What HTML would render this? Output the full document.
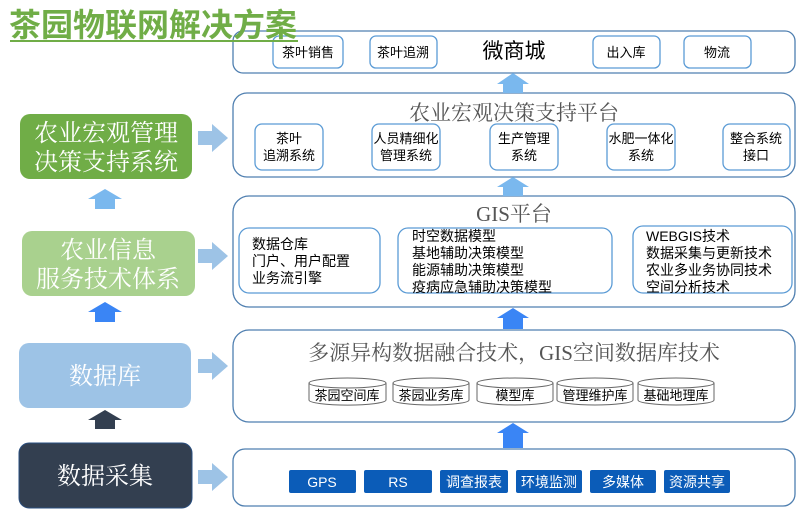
<!DOCTYPE html><html><head><meta charset="utf-8"><style>
body{margin:0;background:#fff}
svg text{font-family:"Liberation Sans","Noto Sans CJK SC",sans-serif}
.s{font-family:"Liberation Serif","Noto Serif CJK SC",serif}
</style></head><body>
<svg width="798" height="511" viewBox="0 0 798 511">
<defs>
<g id="ra"><path d="M0,-7 H14 V-14 L30,0 L14,14 V7 H0Z" fill="#9dc3e6"/></g>
</defs>
<g fill="#fff" stroke="#4f7fb0" stroke-width="1.3">
<rect x="233" y="31" width="562" height="42" rx="10"/>
<rect x="233" y="93" width="562" height="84" rx="14"/>
<rect x="233" y="196" width="562" height="111" rx="16"/>
<rect x="233" y="330" width="562" height="92" rx="16"/>
<rect x="233" y="449" width="562" height="57" rx="12"/>
</g>
<g fill="#fff" stroke="#5b9bd5" stroke-width="1.3">
<rect x="273" y="36" width="70" height="32" rx="6"/>
<rect x="370" y="36" width="67" height="32" rx="6"/>
<rect x="593" y="36" width="67" height="32" rx="6"/>
<rect x="684" y="36" width="67" height="32" rx="6"/>
<rect x="255" y="124" width="68" height="46" rx="7"/>
<rect x="372" y="124" width="68" height="46" rx="7"/>
<rect x="490" y="124" width="68" height="46" rx="7"/>
<rect x="607" y="124" width="68" height="46" rx="7"/>
<rect x="723" y="124" width="67" height="46" rx="7"/>
<rect x="239" y="228" width="141" height="65" rx="10"/>
<rect x="398" y="228" width="214" height="65" rx="10"/>
<rect x="633" y="226" width="159" height="67" rx="10"/>
</g>
<g font-size="13" text-anchor="middle" fill="#000">
<text x="308" y="57">茶叶销售</text><text x="403" y="57">茶叶追溯</text>
<text x="626" y="57">出入库</text><text x="717" y="57">物流</text>
<text x="289" y="143">茶叶</text><text x="289" y="160">追溯系统</text>
<text x="406" y="143">人员精细化</text><text x="406" y="160">管理系统</text>
<text x="524" y="143">生产管理</text><text x="524" y="160">系统</text>
<text x="641" y="143">水肥一体化</text><text x="641" y="160">系统</text>
<text x="756" y="143">整合系统</text><text x="756" y="160">接口</text>
</g>
<text x="514" y="58" font-size="21" text-anchor="middle">微商城</text>
<g fill="#555" text-anchor="middle">
<text class="s" x="514" y="120" font-size="21">农业宏观决策支持平台</text>
<text class="s" x="514" y="221" font-size="21">GIS平台</text>
<text class="s" x="514" y="360" font-size="21">多源异构数据融合技术，GIS空间数据库技术</text>
</g>
<g font-size="14" fill="#000">
<text x="252" y="249">数据仓库</text><text x="252" y="266">门户、用户配置</text><text x="252" y="283">业务流引擎</text>
<text x="412" y="241">时空数据模型</text><text x="412" y="258">基地辅助决策模型</text><text x="412" y="275">能源辅助决策模型</text><text x="412" y="292">疫病应急辅助决策模型</text>
<text x="646" y="241">WEBGIS技术</text><text x="646" y="258">数据采集与更新技术</text><text x="646" y="275">农业多业务协同技术</text><text x="646" y="292">空间分析技术</text>
</g>
<g fill="#fff" stroke="#666" stroke-width="1">
<path d="M309,383 V400 A38,5 0 0 0 386,400 V383"/><ellipse cx="347.5" cy="383" rx="38.5" ry="5"/>
<path d="M393,383 V400 A38,5 0 0 0 469,400 V383"/><ellipse cx="431" cy="383" rx="38" ry="5"/>
<path d="M477,383 V400 A38,5 0 0 0 553,400 V383"/><ellipse cx="515" cy="383" rx="38" ry="5"/>
<path d="M557,383 V400 A38,5 0 0 0 633,400 V383"/><ellipse cx="595" cy="383" rx="38" ry="5"/>
<path d="M638,383 V400 A38,5 0 0 0 714,400 V383"/><ellipse cx="676" cy="383" rx="38" ry="5"/>
</g>
<g font-size="13" text-anchor="middle">
<text x="347" y="400">茶园空间库</text><text x="431" y="400">茶园业务库</text><text x="515" y="400">模型库</text><text x="595" y="400">管理维护库</text><text x="676" y="400">基础地理库</text>
</g>
<g fill="#0b5cb8">
<rect x="289" y="470" width="67" height="23" rx="2"/><rect x="364" y="470" width="68" height="23" rx="2"/>
<rect x="440" y="470" width="68" height="23" rx="2"/><rect x="516" y="470" width="66" height="23" rx="2"/>
<rect x="590" y="470" width="66" height="23" rx="2"/><rect x="664" y="470" width="66" height="23" rx="2"/>
</g>
<g font-size="14" fill="#fff" text-anchor="middle">
<text x="322" y="487">GPS</text><text x="398" y="487">RS</text><text x="474" y="487">调查报表</text><text x="549" y="487">环境监测</text><text x="623" y="487">多媒体</text><text x="697" y="487">资源共享</text>
</g>
<g fill="#7ab8ee">
<path d="M503,93 V84 H497 L513,73 L529,84 H523 V93Z"/>
<path d="M503,196 V187 H497 L513,177 L529,187 H523 V196Z"/>
</g>
<g fill="#3a85f5">
<path d="M503,329 V318 H497 L513,308 L529,318 H523 V329Z"/>
<path d="M503,448 V433 H497 L513,423 L529,433 H523 V448Z"/>
</g>
<rect x="20" y="114" width="172" height="65" rx="10" fill="#70ad47"/>
<rect x="22" y="231" width="173" height="65" rx="10" fill="#a9d18e"/>
<rect x="19" y="343" width="172" height="65" rx="10" fill="#9dc3e6"/>
<rect x="19" y="443" width="173" height="65" rx="10" fill="#333f50" stroke="#2a4f80" stroke-width="1"/>
<g fill="#fff" font-size="24" text-anchor="middle">
<text class="s" x="106" y="141">农业宏观管理</text><text class="s" x="106" y="170">决策支持系统</text>
<text class="s" x="108" y="258">农业信息</text><text class="s" x="108" y="287">服务技术体系</text>
<text class="s" x="105" y="384">数据库</text>
<text class="s" x="105" y="484">数据采集</text>
</g>
<path d="M95,209 V199 H88 L105,189 L122,199 H115 V209Z" fill="#7ab8ee"/>
<path d="M95,322 V312 H88 L105,302 L122,312 H115 V322Z" fill="#3a85f5"/>
<path d="M95,429 V420 H88 L105,410 L122,420 H115 V429Z" fill="#333f50"/>
<use href="#ra" x="198" y="138"/><use href="#ra" x="198" y="256"/><use href="#ra" x="198" y="366"/><use href="#ra" x="198" y="477"/>
<text x="9" y="36" font-size="32" font-weight="bold" fill="#70ad47" font-family="'Noto Sans CJK SC',sans-serif">茶园物联网解决方案</text>
<rect x="10" y="40" width="288" height="2" fill="#70ad47"/>
</svg>
</body></html>
